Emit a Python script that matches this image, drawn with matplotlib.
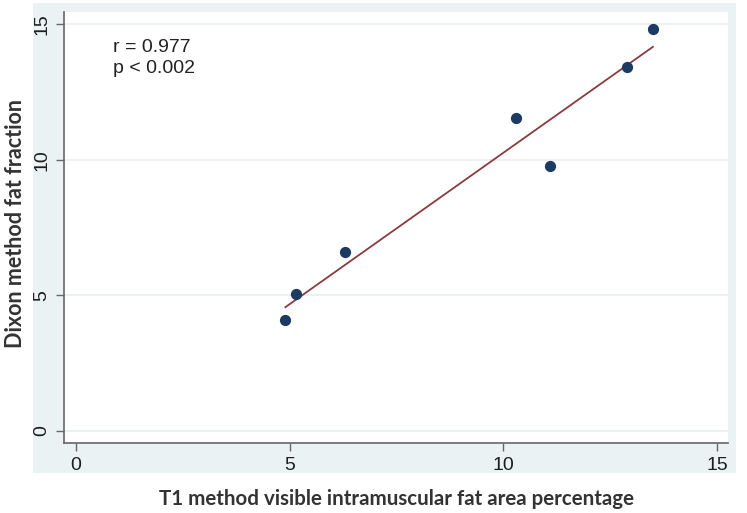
import numpy as np
import matplotlib
matplotlib.use("Agg")
import matplotlib.pyplot as plt
from matplotlib.patches import Rectangle

# data
t1_pct = [4.9, 5.15, 6.3, 10.3, 11.1, 12.9, 13.5]
dixon_ff = [4.1, 5.05, 6.6, 11.55, 9.75, 13.4, 14.8]
xticks = [0, 5, 10, 15]
yticks = [0, 5, 10, 15]

fig = plt.figure(figsize=(7.47, 5.13), dpi=100)
fig.patch.set_facecolor("white")
band = Rectangle((0.044, 0.078), 0.941, 0.916, transform=fig.transFigure,
                 facecolor="#eaf2f3", edgecolor="none", zorder=-10)
fig.add_artist(band)

ax = fig.add_axes([0.0857, 0.1365, 0.889, 0.840])
ax.set_zorder(1)
ax.set_facecolor("white")

ax.scatter(t1_pct, dixon_ff, s=50, color="#1b3b63", zorder=3)
slope, icpt = np.polyfit(t1_pct, dixon_ff, 1)
xs = np.array([min(t1_pct), max(t1_pct)])
ax.plot(xs, slope * xs + icpt, color="#8a3b3f", lw=1.3, zorder=2)

ax.set_xlim(-0.28, 15.26)
ax.set_ylim(-0.44, 15.44)
ax.set_xticks(xticks)
ax.set_yticks(yticks)
ax.set_xticklabels([str(v) for v in xticks], family="Liberation Sans")
ax.set_yticklabels([str(v) for v in yticks], rotation=90, va="center",
                   family="Liberation Sans")
ax.grid(axis="y", color="#e8eeee", lw=1.2)
ax.set_axisbelow(True)
for s in ["top", "right"]:
    ax.spines[s].set_visible(False)
for s in ["left", "bottom"]:
    ax.spines[s].set_color("#666666")
    ax.spines[s].set_linewidth(1.2)
ax.tick_params(colors="#666666", labelcolor="#1e1e1e", labelsize=14, length=6,
               width=1, pad=4)

ax.text(0.074, 0.937, "r = 0.977\np < 0.002", transform=ax.transAxes, fontsize=14,
        family="Liberation Sans", va="top", ha="left", color="#222222",
        linespacing=1.3)

ax.set_xlabel("T1 method visible intramuscular fat area percentage", family="Lato",
              fontweight="bold", fontsize=14.8, color="#333333", labelpad=11)
ax.set_ylabel("Dixon method fat fraction", family="Lato", fontweight="bold",
              fontsize=15.5, color="#333333")
ax.yaxis.set_label_coords(-0.058, 0.51)

fig.savefig("out.png", dpi=100)
